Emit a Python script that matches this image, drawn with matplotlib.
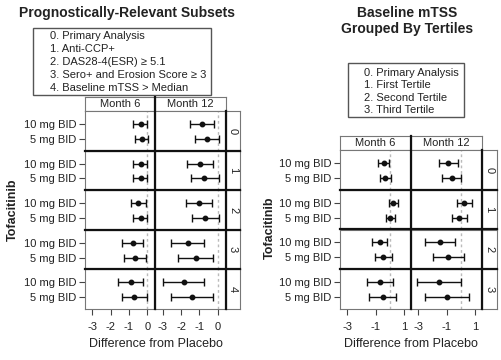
import matplotlib
matplotlib.use("Agg")
import matplotlib.pyplot as plt
from matplotlib.lines import Line2D
from matplotlib.patches import Rectangle

plt.rcParams["font.family"] = ["Liberation Sans", "DejaVu Sans"]

W, H = 502, 360

doses = ["10 mg BID", "5 mg BID"]
months = ["Month 6", "Month 12"]

# estimate, lower, upper -- one triple per subset row
subset_labels = ["0", "1", "2", "3", "4"]
subset_legend = ["0. Primary Analysis", "1. Anti-CCP+", "2. DAS28-4(ESR) \u2265 5.1",
                 "3. Sero+ and Erosion Score \u2265 3", "4. Baseline mTSS > Median"]
subset_m6_10mg = [(-0.35, -0.76, -0.04), (-0.36, -0.76, -0.04), (-0.49, -0.87, -0.09),
                  (-0.80, -1.40, -0.22), (-0.91, -1.58, -0.22)]
subset_m6_5mg = [(-0.29, -0.67, 0.05), (-0.35, -0.76, 0.00), (-0.35, -0.76, 0.00),
                 (-0.69, -1.25, -0.07), (-0.73, -1.40, -0.04)]
subset_m12_10mg = [(-0.84, -1.50, -0.22), (-0.95, -1.68, -0.26), (-1.00, -1.72, -0.29),
                   (-1.63, -2.56, -0.73), (-1.86, -3.00, -0.73)]
subset_m12_5mg = [(-0.58, -1.22, 0.09), (-0.73, -1.46, 0.05), (-0.69, -1.41, 0.05),
                  (-1.21, -2.18, -0.26), (-1.41, -2.54, -0.26)]

tertile_labels = ["0", "1", "2", "3"]
tertile_legend = ["0. Primary Analysis", "1. First Tertile", "2. Second Tertile",
                  "3. Third Tertile"]
tertile_m6_10mg = [(-0.42, -0.81, -0.07), (0.23, -0.07, 0.56), (-0.72, -1.28, -0.19),
                   (-0.72, -1.63, 0.23)]
tertile_m6_5mg = [(-0.35, -0.72, 0.05), (0.02, -0.28, 0.33), (-0.49, -1.07, 0.12),
                  (-0.51, -1.47, 0.44)]
tertile_m12_10mg = [(-0.89, -1.55, -0.24), (0.21, -0.31, 0.75), (-1.46, -2.49, -0.40),
                    (-1.53, -3.08, 0.00)]
tertile_m12_5mg = [(-0.66, -1.32, 0.02), (-0.12, -0.64, 0.45), (-0.89, -1.95, 0.19),
                   (-0.96, -2.54, 0.59)]

TXT = "#222222"
GRID = "#777777"


def px_axes(fig, x0, y0, x1, y1):
    return fig.add_axes([x0 / W, 1 - y1 / H, (x1 - x0) / W, (y1 - y0) / H])


def fig_line(fig, xs, ys, lw=1.6, color="#111111"):
    fig.add_artist(Line2D([x / W for x in xs], [1 - y / H for y in ys],
                          transform=fig.transFigure, lw=lw, color=color))


def strip(fig, x0, y0, x1, y1, label, rotation=0):
    ax = px_axes(fig, x0, y0, x1, y1)
    ax.set_xticks([])
    ax.set_yticks([])
    for s in ax.spines.values():
        s.set_color(GRID)
        s.set_linewidth(0.8)
    ax.text(0.5, 0.5, label, ha="center", va="center", rotation=rotation,
            fontsize=8, color=TXT, transform=ax.transAxes)


def draw_block(fig, left, top, panel_w, row_h, strip_w, labels, data, xlim, xticks):
    n = len(labels)
    bottom = top + n * row_h
    for j, month in enumerate(months):
        x0 = left + j * panel_w
        strip(fig, x0, top - 14, x0 + panel_w, top, month)
        for i in range(n):
            y0 = top + i * row_h
            ax = px_axes(fig, x0, y0, x0 + panel_w, y0 + row_h)
            for k, ypos in enumerate([2, 1]):
                est, lo, hi = data[j][k][i]
                ax.errorbar(est, ypos, xerr=[[est - lo], [hi - est]], fmt="o",
                            color="#111111", ms=3.2, capsize=2.6, elinewidth=1.0,
                            capthick=1.0)
            ax.axvline(0, color="#bbbbbb", lw=1.0, ls=(0, (2, 2)), zorder=0)
            ax.set_xlim(*xlim)
            ax.set_ylim(0.2, 2.87)
            for s in ax.spines.values():
                s.set_color(GRID)
                s.set_linewidth(0.8)
            ax.tick_params(length=4, width=0.8, color="#444444", labelsize=8,
                           labelcolor=TXT, pad=2)
            if j == 0:
                ax.set_yticks([2, 1])
                ax.set_yticklabels(doses)
            else:
                ax.set_yticks([])
            if i == n - 1:
                ax.set_xticks(xticks)
                ax.set_xticklabels([str(t) for t in xticks])
                ax.tick_params(axis="x", pad=5)
            else:
                ax.set_xticks([])
    right = left + 2 * panel_w
    for i, lab in enumerate(labels):
        y0 = top + i * row_h
        strip(fig, right, y0, right + strip_w, y0 + row_h, lab, rotation=-90)
    # heavy separators between panels
    fig_line(fig, [left + panel_w] * 2, [top - 14, bottom])
    fig_line(fig, [right] * 2, [top, bottom])
    for i in range(1, n):
        y = top + i * row_h
        fig_line(fig, [left, right + strip_w], [y, y])
    cx = left + panel_w
    fig.text(cx / W, 1 - 344 / H, "Difference from Placebo", ha="center", va="center",
             fontsize=9, color=TXT)
    return bottom


def legend_box(fig, x0, y0, x1, y1, tx, ty, dy, lines):
    fig.add_artist(Rectangle((x0 / W, 1 - y1 / H), (x1 - x0) / W, (y1 - y0) / H,
                             transform=fig.transFigure, fill=False, ec="#555555", lw=1.0))
    for i, line in enumerate(lines):
        fig.text(tx / W, 1 - (ty + i * dy) / H, line, ha="left", va="center",
                 fontsize=8, color=TXT)


fig = plt.figure(figsize=(W / 100, H / 100), dpi=100)

# left block: prognostic subsets
draw_block(fig, 85, 111, 70.5, 39.6, 14, subset_labels,
           [[subset_m6_10mg, subset_m6_5mg], [subset_m12_10mg, subset_m12_5mg]],
           (-3.4, 0.45), [-3, -2, -1, 0])
fig.text(127 / W, 1 - 13 / H, "Prognostically-Relevant Subsets", ha="center",
         va="center", fontsize=10, fontweight="bold", color=TXT)
legend_box(fig, 33, 28, 211, 95, 50, 36, 13, subset_legend)
fig.text(13 / W, 1 - 210 / H, "Tofacitinib", rotation=90, ha="center", va="center",
         fontsize=9, fontweight="bold", color=TXT)

# right block: baseline mTSS tertiles
draw_block(fig, 340, 150, 71, 39.75, 15, tertile_labels,
           [[tertile_m6_10mg, tertile_m6_5mg], [tertile_m12_10mg, tertile_m12_5mg]],
           (-3.5, 1.47), [-3, -1, 1])
fig.text(407 / W, 1 - 21 / H, "Baseline mTSS\nGrouped By Tertiles", ha="center",
         va="center", fontsize=10, fontweight="bold", color=TXT, linespacing=1.25)
legend_box(fig, 348, 63, 464, 117, 364, 73, 12.4, tertile_legend)
fig.text(270 / W, 1 - 228 / H, "Tofacitinib", rotation=90, ha="center", va="center",
         fontsize=9, fontweight="bold", color=TXT)

fig.savefig("out.png", dpi=100)
